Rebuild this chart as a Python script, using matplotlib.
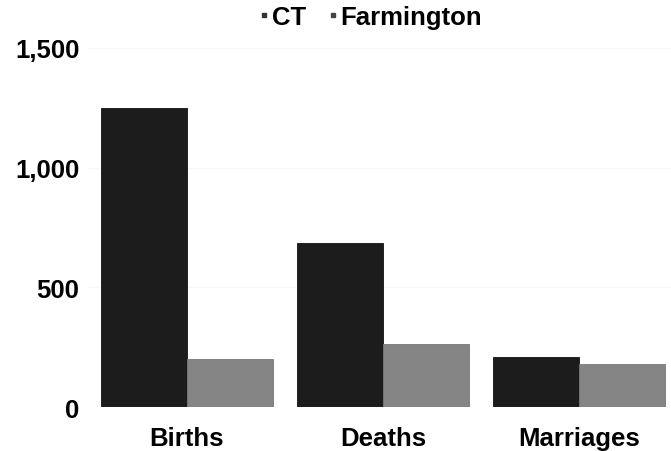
import numpy as np
import matplotlib.pyplot as plt
from matplotlib.lines import Line2D

categories = ["Births", "Deaths", "Marriages"]
series = ["CT", "Farmington"]
ct_values = [1250, 685, 210]
farmington_values = [200, 265, 180]
y_ticks = [0, 500, 1000, 1500]

colors = ["#1c1c1c", "#858585"]

plt.rcParams['font.family'] = ['Liberation Sans', 'DejaVu Sans']
plt.rcParams['font.weight'] = 'bold'

fig = plt.figure(figsize=(6.71, 4.52), dpi=100)
ax = fig.add_axes([0.1326, 0.0973, 0.8674, 0.7943])

x = np.arange(len(categories))
w = 0.44
ax.bar(x - w/2, ct_values, width=w, color=colors[0], edgecolor="#111111", linewidth=0.6)
ax.bar(x + w/2, farmington_values, width=w, color=colors[1], edgecolor="#777777", linewidth=0.6)

ax.set_xlim(-0.5, 2.469)
ax.set_ylim(0, 1500)
ax.set_yticks(y_ticks)
ax.set_yticklabels([f"{v:,}" for v in y_ticks], fontsize=18.5, fontweight="bold")
ax.set_xticks(x)
ax.set_xticklabels(categories, fontsize=18.5, fontweight="bold")
ax.tick_params(axis="y", length=0, pad=7)
ax.tick_params(axis="x", length=0, pad=14)
ax.yaxis.grid(True, color="#f8f8f8", linewidth=0.8)
ax.set_axisbelow(True)
for s in ax.spines.values():
    s.set_visible(False)

handles = [Line2D([], [], marker="s", linestyle="none", markersize=3.5, color=c) for c in ["#333333", "#444444"]]
fig.legend(handles, series, loc="center", bbox_to_anchor=(0.553, 0.96), ncol=2,
           frameon=False, prop={"size": 18.5, "weight": "bold"},
           handlelength=0.3, handletextpad=0.15, columnspacing=0.9)

fig.savefig("out.png", dpi=100)
